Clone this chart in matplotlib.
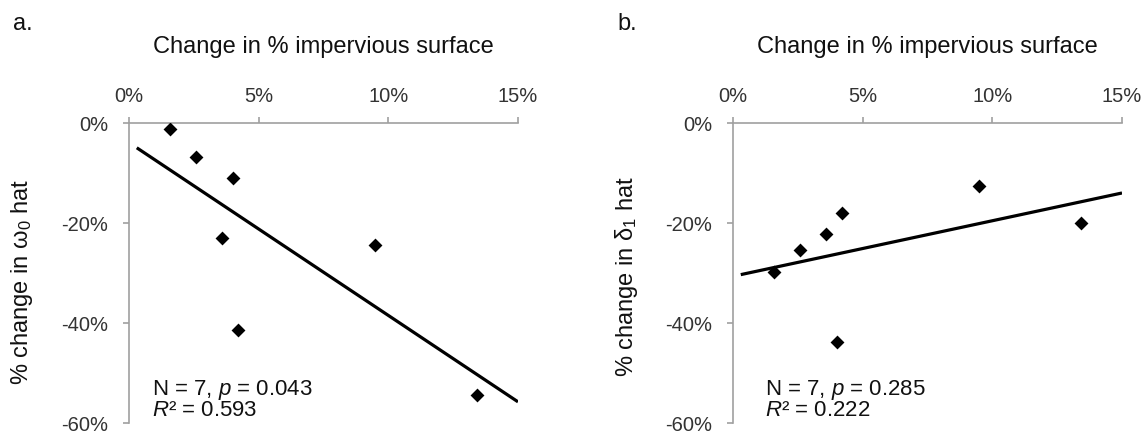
import numpy as np
import matplotlib
matplotlib.use("Agg")
import matplotlib.pyplot as plt
from matplotlib.ticker import FuncFormatter

plt.rcParams["font.family"] = ["Liberation Sans", "DejaVu Sans"]
plt.rcParams["mathtext.fontset"] = "custom"
plt.rcParams["mathtext.rm"] = "Liberation Sans"
plt.rcParams["mathtext.it"] = "Liberation Sans:italic"

# data, in percent
imperv_a = [1.6, 2.6, 4.0, 3.6, 4.2, 9.5, 13.4]
omega_change = [-1.2, -6.8, -11.0, -22.9, -41.4, -24.3, -54.3]

imperv_b = [1.6, 2.6, 3.6, 4.2, 4.0, 9.5, 13.4]
delta_change = [-29.7, -25.4, -22.1, -17.9, -43.7, -12.6, -20.0]

trend_range = [0.3, 15.0]
x_ticks = [0, 5, 10, 15]
y_ticks = [0, -20, -40, -60]

panels = [
    dict(x=imperv_a, y=omega_change, tag="a.", ylab="% change in ω$_0$ hat",
         stats="N = 7, $\\mathit{p}$ = 0.043\n$\\mathit{R}$² = 0.593",
         left=129, ylab_x=22, ylab_y=282, tag_x=13, txt_x=0.06),
    dict(x=imperv_b, y=delta_change, tag="b.", ylab="% change in δ$_1$ hat",
         stats="N = 7, $\\mathit{p}$ = 0.285\n$\\mathit{R}$² = 0.222",
         left=733, ylab_x=627, ylab_y=276, tag_x=617, txt_x=0.082),
]

W, H = 1148, 436
fig = plt.figure(figsize=(W / 100, H / 100), dpi=100)
axis_col = "#a0a0a0"
pct = FuncFormatter(lambda v, _: "%d%%" % v)

for p in panels:
    ax = fig.add_axes([p["left"] / W, (H - 423) / H, 389 / W, 300 / H])
    ax.scatter(p["x"], p["y"], marker="D", s=50, color="black", zorder=3, linewidths=0)
    k, b = np.polyfit(p["x"], p["y"], 1)
    xs = np.array(trend_range)
    ax.plot(xs, k * xs + b, color="black", lw=2.3, solid_capstyle="butt")

    ax.set_xlim(0, 15)
    ax.set_ylim(-60, 0)
    ax.set_xticks(x_ticks)
    ax.set_yticks(y_ticks)
    ax.xaxis.set_major_formatter(pct)
    ax.yaxis.set_major_formatter(pct)
    ax.xaxis.tick_top()
    ax.spines["right"].set_visible(False)
    ax.spines["bottom"].set_visible(False)
    for s in ("top", "left"):
        ax.spines[s].set_color(axis_col)
        ax.spines[s].set_linewidth(1.2)
    ax.tick_params(axis="x", direction="out", length=4, width=1.2, color=axis_col,
                   pad=8, labelsize=14.5, labelcolor="#333333")
    ax.tick_params(axis="y", direction="out", length=4, width=1.2, color=axis_col,
                   pad=11, labelsize=14.5, labelcolor="#333333")

    ax.text(0.5, 370 / 300, "Change in % impervious surface", transform=ax.transAxes,
            ha="center", va="baseline", fontsize=17, color="#111111")
    ax.text(p["txt_x"], 0.022, p["stats"], transform=ax.transAxes,
            ha="left", va="baseline", fontsize=16, color="#111111", linespacing=0.92)

    fig.text(p["ylab_x"] / W, 1 - p["ylab_y"] / H, p["ylab"], rotation=90,
             ha="center", va="center", fontsize=17, color="#111111")
    fig.text(p["tag_x"] / W, 1 - 30 / H, p["tag"], ha="left", va="baseline",
             fontsize=17, color="#111111")

fig.savefig("out.png", dpi=100)
